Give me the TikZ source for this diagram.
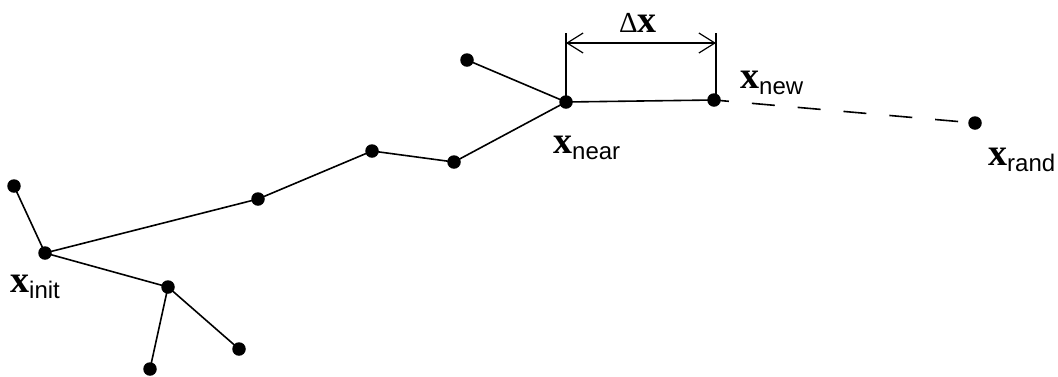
\documentclass[tikz,border=0pt]{standalone}
\usepackage{fontspec}
\usetikzlibrary{arrows.meta}
\newfontfamily\xserif{Liberation Serif}
\newfontfamily\xsans{Liberation Sans}
\newcommand{\xvar}[1]{{\fontsize{38pt}{38pt}\xserif\bfseries x}{\fontsize{24pt}{24pt}\xsans\raisebox{-6.5pt}{#1}}}
\begin{document}
\begin{tikzpicture}[x=1pt,y=-1pt,
  dot/.style={circle,fill=black,inner sep=0pt,minimum size=13.5pt},
  edge/.style={line width=1.6pt},
  lbl/.style={anchor=base west,inner sep=0pt},
  dim/.style={line width=1.6pt},
  dimarrow/.style={line width=1.5pt,{Straight Barb[length=16pt,width=20pt,line width=1.2pt]}-{Straight Barb[length=16pt,width=20pt,line width=1.2pt]}}]
\useasboundingbox (0,0) rectangle (1058,376);
\node[dot] (init) at (45,253) {};
\node[dot] (la) at (14,186) {};
\node[dot] (c) at (168,287) {};
\node[dot] (lb) at (150,369) {};
\node[dot] (lc) at (239,349) {};
\node[dot] (n1) at (258,199) {};
\node[dot] (n2) at (372,151) {};
\node[dot] (n3) at (454,162) {};
\node[dot] (near) at (566,102) {};
\node[dot] (ln) at (467,60) {};
\node[dot] (new) at (714,100) {};
\node[dot] (rand) at (975,123) {};
\draw[edge] (init.center) -- (la.center);
\draw[edge] (init.center) -- (n1.center);
\draw[edge] (init.center) -- (c.center);
\draw[edge] (c.center) -- (lb.center);
\draw[edge] (c.center) -- (lc.center);
\draw[edge] (n1.center) -- (n2.center);
\draw[edge] (n2.center) -- (n3.center);
\draw[edge] (n3.center) -- (near.center);
\draw[edge] (near.center) -- (ln.center);
\draw[edge] (near.center) -- (new.center);
\draw[edge,dash pattern=on 23pt off 23pt,dash phase=8pt] (new.center) -- (rand.center);
\coordinate (dl) at (566,33);
\coordinate (dr) at (716,33);
\coordinate (al) at (566,43);
\coordinate (ar) at (716,43);
\draw[dim] (near.center) -- (dl);
\draw[dim] (new.center) -- (716,100) -- (dr);
\draw[dimarrow] (al) -- (ar);
\node[lbl] (dx) at (619,32) {{\fontsize{29pt}{29pt}\xserif Δ}{\fontsize{38pt}{38pt}\xserif\bfseries x}};
\node[lbl] (tnew) at (740,88) {\xvar{new}};
\node[lbl] (tnear) at (553,153) {\xvar{near}};
\node[lbl] (tinit) at (10,292) {\xvar{init}};
\node[lbl] (trand) at (988,165) {\xvar{rand}};
\end{tikzpicture}
\end{document}
